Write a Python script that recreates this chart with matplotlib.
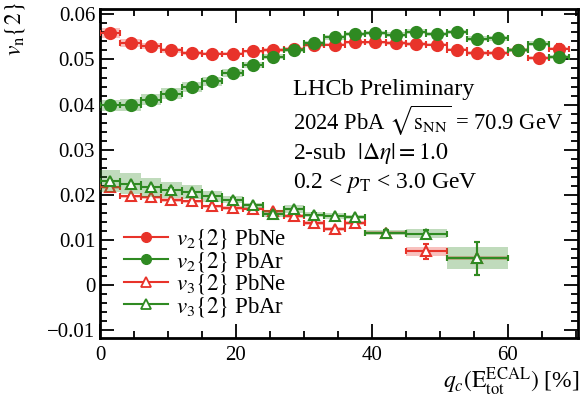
import numpy as np
import matplotlib
matplotlib.use("Agg")
import matplotlib.pyplot as plt
from matplotlib.lines import Line2D
from matplotlib.ticker import MultipleLocator

plt.rcParams['font.family'] = ['Liberation Serif', 'DejaVu Serif']
plt.rcParams['mathtext.fontset'] = 'stix'

# ---------------- data ----------------
v2_x = [1.5, 4.5, 7.5, 10.5, 13.5, 16.5, 19.5, 22.5, 25.5, 28.5, 31.5, 34.5,
        37.5, 40.5, 43.5, 46.5, 49.5, 52.5, 55.5, 58.5, 61.5, 64.5, 67.5]
v2_hw = [1.5] * 23

v2_pbne = [0.0558, 0.0537, 0.0530, 0.0520, 0.0514, 0.0513, 0.0513, 0.0518, 0.0521,
           0.0523, 0.0532, 0.0533, 0.0538, 0.0538, 0.0537, 0.0534, 0.0533, 0.0522,
           0.0514, 0.0514, 0.0521, 0.0503, 0.0524]
v2_pbne_stat = [0.0002] * 20 + [0.0004, 0.0010, 0.0010]
v2_pbne_sys = [0.0011, 0.0009, 0.0006, 0.0005, 0.0004, 0.0004, 0.0004, 0.0004, 0.0004,
               0.0004, 0.0004, 0.0004, 0.0004, 0.0004, 0.0004, 0.0004, 0.0004, 0.0004,
               0.0004, 0.0004, 0.0004, 0.0004, 0.0004]

v2_pbar = [0.0398, 0.0399, 0.0411, 0.0424, 0.0438, 0.0452, 0.0470, 0.0488, 0.0506,
           0.0521, 0.0536, 0.0549, 0.0557, 0.0559, 0.0555, 0.0562, 0.0557, 0.0561,
           0.0546, 0.0547, 0.0521, 0.0535, 0.0506]
v2_pbar_stat = [0.0002] * 20 + [0.0005, 0.0005, 0.0005]
v2_pbar_sys = [0.0013, 0.0013, 0.0013, 0.0012, 0.0011, 0.0010, 0.0008, 0.0007, 0.0006,
               0.0005, 0.0005, 0.0005, 0.0005, 0.0005, 0.0005, 0.0005, 0.0005, 0.0005,
               0.0005, 0.0005, 0.0005, 0.0005, 0.0005]

v3_x = [1.5, 4.5, 7.5, 10.5, 13.5, 16.5, 19.5, 22.5, 25.5, 28.5, 31.5, 34.5, 37.5,
        42.0, 48.0, 55.5]
v3_hw = [1.5] * 13 + [3.0, 3.0, 4.5]

v3_pbne = [0.0216, 0.0196, 0.0194, 0.0188, 0.0185, 0.0174, 0.0170, 0.0169, 0.0163,
           0.0153, 0.0137, 0.0124, 0.0137, 0.0116, 0.0074, 0.0059]
v3_pbne_stat = [0.0003] * 13 + [0.0006, 0.0017, 0.0037]
v3_pbne_sys = [0.0004] * 13 + [0.0004, 0.0011, 0.0004]

v3_pbar = [0.0230, 0.0224, 0.0216, 0.0211, 0.0206, 0.0196, 0.0189, 0.0176, 0.0158,
           0.0168, 0.0156, 0.0153, 0.0150, 0.0116, 0.0113, 0.0059]
v3_pbar_stat = [0.0003] * 13 + [0.0006, 0.0008, 0.0037]
v3_pbar_sys = [0.0024, 0.0023, 0.0021, 0.0018, 0.0015, 0.0012, 0.0008, 0.0006, 0.0008,
               0.0008, 0.0006, 0.0006, 0.0005, 0.0005, 0.0010, 0.0024]

RED = '#e8332a'
GREEN = '#2f8a22'

W, H = 584, 407
fig = plt.figure(figsize=(W / 100, H / 100), dpi=100)
ax = fig.add_axes([100 / W, (H - 338) / H, (578 - 100) / W, (338 - 9) / H])


def draw(x, hw, y, stat, sys, color, marker, filled, zorder):
    x = np.array(x); hw = np.array(hw); y = np.array(y)
    stat = np.array(stat); sys = np.array(sys)
    ax.bar(x, 2 * sys, bottom=y - sys, width=2 * hw, color=color, alpha=0.3,
           linewidth=0, zorder=zorder)
    ax.errorbar(x, y, xerr=hw, yerr=stat, fmt=marker, color=color,
                markersize=8 if filled else 7.5,
                markerfacecolor=color if filled else 'white',
                markeredgecolor=color, markeredgewidth=1.5,
                elinewidth=1.5, capsize=2, capthick=1.5, zorder=zorder + 1)


draw(v2_x, v2_hw, v2_pbne, v2_pbne_stat, v2_pbne_sys, RED, 'o', True, 2)
draw(v2_x, v2_hw, v2_pbar, v2_pbar_stat, v2_pbar_sys, GREEN, 'o', True, 4)
draw(v3_x, v3_hw, v3_pbne, v3_pbne_stat, v3_pbne_sys, RED, '^', False, 2)
draw(v3_x, v3_hw, v3_pbar, v3_pbar_stat, v3_pbar_sys, GREEN, '^', False, 4)

ax.set_xlim(0, 70.3)
ax.set_ylim(-0.0118, 0.0612)
ax.xaxis.set_major_locator(MultipleLocator(20))
ax.xaxis.set_minor_locator(MultipleLocator(5))
ax.yaxis.set_major_locator(MultipleLocator(0.01))
ax.yaxis.set_minor_locator(MultipleLocator(0.002))
ax.tick_params(which='both', direction='in', top=True, right=True, width=1.3,
               labelsize=15)
ax.tick_params(which='major', length=10)
ax.tick_params(which='minor', length=5)
ax.tick_params(axis='x', pad=6)
for s in ax.spines.values():
    s.set_linewidth(2)
ax.xaxis.set_major_formatter(plt.FuncFormatter(lambda v, p: f"{v:g}"))
ax.yaxis.set_major_formatter(plt.FuncFormatter(
    lambda v, p: "0" if abs(v) < 1e-9 else (f"{v:.2f}".replace('-', '\u2212'))))

fig.text(15 / W, 1 - 2 / H, r"$v_{\mathrm{n}}\{2\}$", rotation=90, ha='center',
         va='top', fontsize=17)
fig.text(580 / W, 1 - 382 / H, r"$q_c(\mathrm{E}_{\mathrm{tot}}^{\mathrm{ECAL}})$ [%]",
         ha='right', va='center', fontsize=17)

tx = 293 / W
fig.text(tx, 1 - 89 / H, "LHCb Preliminary", fontsize=17.5, va='center')
fig.text(tx, 1 - 121 / H, r"2024 PbA $\sqrt{\mathrm{s}_{\mathrm{NN}}}$ = 70.9 GeV",
         fontsize=16.3, va='center')
fig.text(tx, 1 - 153 / H, r"2-sub  $|\Delta\eta| = 1.0$", fontsize=17, va='center')
fig.text(tx, 1 - 183 / H, r"0.2 < $p_{\mathrm{T}}$ < 3.0 GeV", fontsize=17, va='center')

handles = [
    Line2D([], [], color=RED, marker='o', markersize=7, lw=1.5),
    Line2D([], [], color=GREEN, marker='o', markersize=7, lw=1.5),
    Line2D([], [], color=RED, marker='^', markersize=7, lw=1.5,
           markerfacecolor='white', markeredgewidth=1.3),
    Line2D([], [], color=GREEN, marker='^', markersize=7, lw=1.5,
           markerfacecolor='white', markeredgewidth=1.3),
]
labels = [r"$v_2\{2\}$ PbNe", r"$v_2\{2\}$ PbAr", r"$v_3\{2\}$ PbNe", r"$v_3\{2\}$ PbAr"]
ax.legend(handles, labels, loc='upper left', bbox_to_anchor=(113 / W, 1 - 216 / H),
          bbox_transform=fig.transFigure, frameon=False, fontsize=16.5,
          handlelength=1.9, handletextpad=0.35, labelspacing=-0.07, borderpad=0)

fig.savefig("out.png", dpi=100)
